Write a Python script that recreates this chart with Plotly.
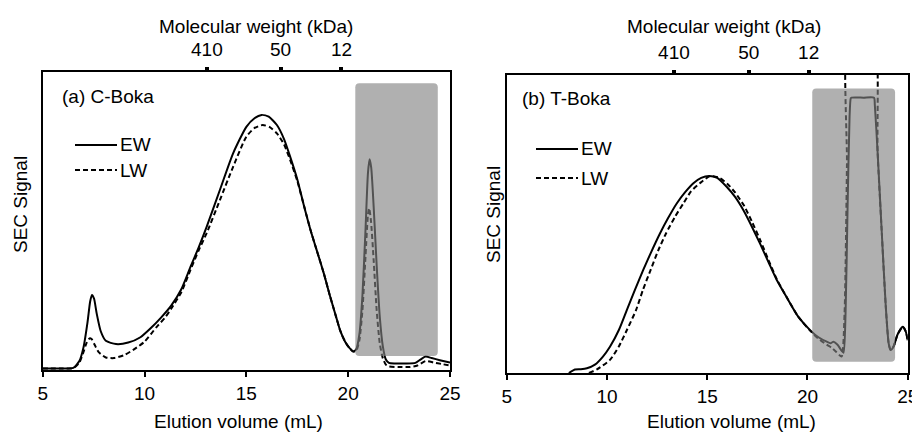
import plotly.graph_objects as go

# ---------------- data (left panel: C-Boka) ----------------
a_ew_x = [5.0, 6.0, 6.5, 6.8, 7.0, 7.2, 7.33, 7.42, 7.52, 7.65, 7.85, 8.1, 8.6, 9.2, 9.8, 10.3, 10.8,
          11.3, 11.8, 12.25, 12.65, 13.05, 13.7, 14.35, 15.0, 15.4, 15.75, 16.1, 16.5, 16.85, 17.15,
          17.5, 17.8, 18.15, 18.45, 18.8, 19.1, 19.4, 19.6, 19.85, 20.05, 20.25, 20.4, 20.55, 20.7,
          20.85, 20.97, 21.05, 21.13, 21.25, 21.4, 21.55, 21.7, 21.85, 22.0, 22.3, 22.8, 23.3, 23.55,
          23.8, 24.1, 24.5, 25.0]
a_ew_y = [0.005, 0.005, 0.007, 0.03, 0.075, 0.16, 0.23, 0.252, 0.24, 0.19, 0.13, 0.098, 0.087, 0.092,
          0.11, 0.14, 0.175, 0.215, 0.27, 0.345, 0.41, 0.48, 0.604, 0.727, 0.816, 0.845, 0.856, 0.85,
          0.822, 0.775, 0.716, 0.64, 0.559, 0.47, 0.403, 0.325, 0.25, 0.18, 0.134, 0.095, 0.075, 0.062,
          0.07, 0.12, 0.25, 0.47, 0.66, 0.707, 0.68, 0.55, 0.35, 0.18, 0.08, 0.035, 0.024, 0.022, 0.022,
          0.024, 0.035, 0.045, 0.04, 0.033, 0.025]

a_lw_x = [5.0, 6.0, 6.5, 6.8, 7.0, 7.15, 7.3, 7.4, 7.55, 7.75, 8.1, 8.5, 9.0, 9.5, 10.0, 10.6, 11.0,
          11.3, 11.8, 12.25, 12.65, 13.05, 13.7, 14.35, 15.0, 15.4, 15.8, 16.15, 16.5, 16.85, 17.15,
          17.5, 17.8, 18.15, 18.45, 18.8, 19.1, 19.4, 19.6, 19.85, 20.05, 20.25, 20.4, 20.55, 20.7,
          20.85, 20.97, 21.03, 21.12, 21.25, 21.4, 21.55, 21.7, 21.85, 22.0, 22.5, 23.0, 23.4, 23.8,
          24.2, 24.6, 25.0]
a_lw_y = [0.005, 0.005, 0.006, 0.025, 0.06, 0.09, 0.106, 0.104, 0.085, 0.06, 0.042, 0.04, 0.05, 0.07,
          0.095, 0.145, 0.175, 0.205, 0.26, 0.335, 0.4, 0.459, 0.57, 0.682, 0.783, 0.812, 0.822, 0.815,
          0.794, 0.757, 0.705, 0.635, 0.559, 0.47, 0.403, 0.325, 0.25, 0.18, 0.134, 0.095, 0.075, 0.062,
          0.065, 0.1, 0.2, 0.38, 0.52, 0.543, 0.5, 0.37, 0.2, 0.09, 0.04, 0.018, 0.012, 0.01, 0.01,
          0.015, 0.03, 0.025, 0.02, 0.015]

# ---------------- data (right panel: T-Boka) ----------------
b_ew_x = [8.1, 8.4, 8.7, 9.0, 9.4, 9.8, 10.15, 10.6, 10.99, 11.4, 11.81, 12.2, 12.65, 13.05, 13.48,
          13.9, 14.31, 14.7, 15.1, 15.5, 15.97, 16.4, 16.8, 17.2, 17.63, 18.05, 18.47, 19.0, 19.54,
          20.13, 20.55, 20.96, 21.15, 21.3, 21.5, 21.7, 21.8, 21.9, 22.0, 22.1, 22.16, 22.2, 22.8,
          23.32, 23.36, 23.5, 23.7, 23.9, 24.05, 24.15, 24.3, 24.5, 24.75, 24.9, 25.0]
b_ew_y = [0.0, 0.012, 0.013, 0.016, 0.028, 0.055, 0.088, 0.145, 0.211, 0.28, 0.346, 0.405, 0.469,
          0.52, 0.569, 0.607, 0.637, 0.655, 0.661, 0.655, 0.625, 0.59, 0.547, 0.495, 0.435, 0.373,
          0.312, 0.25, 0.189, 0.144, 0.12, 0.105, 0.1, 0.105, 0.095, 0.075, 0.068, 0.2, 0.55, 0.86,
          0.922, 0.924, 0.924, 0.924, 0.9, 0.74, 0.48, 0.23, 0.1, 0.077, 0.09, 0.13, 0.155, 0.14, 0.11]

b_lw_x = [9.1, 9.5, 10.15, 10.6, 11.0, 11.45, 11.8, 12.18, 12.55, 12.95, 13.4, 13.81, 14.2, 14.64,
          15.15, 15.6, 16.0, 16.4, 16.85, 17.25, 17.65, 18.05, 18.47, 19.0, 19.54, 20.13, 20.55, 20.96,
          21.2, 21.45, 21.7, 21.85, 21.97, 22.05, 22.8, 23.33, 23.5, 23.7, 23.9, 24.05, 24.15, 24.3,
          24.5, 24.75, 24.9, 25.0]
b_lw_y = [0.0, 0.012, 0.044, 0.09, 0.145, 0.211, 0.28, 0.346, 0.41, 0.469, 0.525, 0.569, 0.61, 0.637,
          0.661, 0.655, 0.635, 0.605, 0.56, 0.505, 0.445, 0.38, 0.315, 0.25, 0.189, 0.142, 0.115, 0.095,
          0.085, 0.07, 0.055, 0.2, 0.7, 1.15, 1.15, 1.15, 0.74, 0.48, 0.23, 0.1, 0.077, 0.09, 0.13,
          0.155, 0.14, 0.11]

# molecular weight markers (top axes)
mw_labels = ["410", "50", "12"]
a_mw_pos = [13.06, 16.68, 19.67]
b_mw_pos = [13.34, 17.07, 20.06]

x_ticks = [5, 10, 15, 20, 25]
series_names = ["EW", "LW"]
panel_titles = ["(a) C-Boka", "(b) T-Boka"]

# gray highlight boxes (data coordinates)
a_box = (20.35, 24.4, 0.047, 0.962)
b_box = (20.24, 24.37, 0.038, 0.955)

FONT = "Arial, Liberation Sans, Helvetica, sans-serif"
BLACK = "#000000"

# page body has an 8px margin: lay the figure out in page pixels minus that offset
OFF = 8
W, H = 920 - OFF, 432 - OFF
def fx(px):
    return (px - OFF) / W
def fy(py):
    return (H - (py - OFF)) / H

fig = go.Figure()

def add_panel(xs, ys, xa, ya):
    for (x, y), dash in zip(zip(xs, ys), ["solid", "5px,3px"]):
        fig.add_trace(go.Scatter(x=x, y=y, xaxis=xa, yaxis=ya, mode="lines",
                                 line=dict(color=BLACK, width=2, dash=dash, shape="spline", smoothing=0.6),
                                 showlegend=False, hoverinfo="skip"))

add_panel([a_ew_x, a_lw_x], [a_ew_y, a_lw_y], "x", "y")
add_panel([b_ew_x, b_lw_x], [b_ew_y, b_lw_y], "x2", "y2")

# invisible traces so the top (molecular weight) axes are drawn
fig.add_trace(go.Scatter(x=[5, 25], y=[0, 0], xaxis="x3", yaxis="y", mode="lines",
                         line=dict(width=0), showlegend=False, hoverinfo="skip"))
fig.add_trace(go.Scatter(x=[5, 25], y=[0, 0], xaxis="x4", yaxis="y2", mode="lines",
                         line=dict(width=0), showlegend=False, hoverinfo="skip"))

dom_a_x = [fx(42.7), fx(450)]
dom_b_x = [fx(506.7), fx(907.7)]
dom_a_y = [fy(370), fy(72)]
dom_b_y = [fy(373), fy(75)]

bottom_axis = dict(range=[5, 25], tickvals=x_ticks, ticks="outside", ticklen=5, tickwidth=1.5,
                   tickcolor=BLACK, showline=True, linecolor=BLACK, linewidth=1.5, mirror=True,
                   showgrid=False, zeroline=False, automargin=False,
                   tickfont=dict(size=19, color=BLACK, family=FONT))
left_axis = dict(range=[0, 1], showticklabels=False, ticks="", showline=True, linecolor=BLACK,
                 linewidth=1.5, mirror=True, showgrid=False, zeroline=False, automargin=False)
top_axis = dict(range=[5, 25], side="top", ticks="outside", ticklen=4, tickwidth=4, tickcolor=BLACK,
                showline=False, showgrid=False, zeroline=False, ticktext=mw_labels, automargin=False,
                ticklabelstandoff=3, tickfont=dict(size=19, color=BLACK, family=FONT))

fig.update_layout(
    width=W, height=H, margin=dict(l=0, r=0, t=0, b=0, pad=0), autosize=False,
    paper_bgcolor="white", plot_bgcolor="white",
    font=dict(family=FONT, size=19, color=BLACK),
    xaxis=dict(domain=dom_a_x, anchor="y", **bottom_axis),
    yaxis=dict(domain=dom_a_y, anchor="x", **left_axis),
    xaxis2=dict(domain=dom_b_x, anchor="y2", **bottom_axis),
    yaxis2=dict(domain=dom_b_y, anchor="x2", **left_axis),
    xaxis3=dict(overlaying="x", anchor="y", tickvals=a_mw_pos, **top_axis),
    xaxis4=dict(overlaying="x2", anchor="y2", tickvals=b_mw_pos, **top_axis),
)

def rounded_path(x0, x1, y0, y1, rx, ry):
    return (f"M {x0+rx},{y0} L {x1-rx},{y0} Q {x1},{y0} {x1},{y0+ry} L {x1},{y1-ry} "
            f"Q {x1},{y1} {x1-rx},{y1} L {x0+rx},{y1} Q {x0},{y1} {x0},{y1-ry} "
            f"L {x0},{y0+ry} Q {x0},{y0} {x0+rx},{y0} Z")

for (x0, x1, y0, y1), xr, yr in [(a_box, "x", "y"), (b_box, "x2", "y2")]:
    fig.add_shape(type="path", path=rounded_path(x0, x1, y0, y1, 0.2, 0.013), xref=xr, yref=yr,
                  fillcolor="rgb(130,130,130)", opacity=0.63, line=dict(width=0), layer="above")

ann = []
def text(x, y, s, xanchor="center", angle=0):
    ann.append(dict(x=fx(x), y=fy(y), xref="paper", yref="paper", text=s, showarrow=False,
                    xanchor=xanchor, yanchor="middle", textangle=angle, borderpad=0,
                    font=dict(size=19, family=FONT, color=BLACK)))

text(61, 97, panel_titles[0], "left")
text(521, 98.5, panel_titles[1], "left")
text(256, 27, "Molecular weight (kDa)")
text(724, 27, "Molecular weight (kDa)")
text(239, 421, "Elution volume (mL)")
text(731, 421, "Elution volume (mL)")
text(20, 205, "SEC Signal", angle=-90)
text(493, 215, "SEC Signal", angle=-90)

# legends
legend_rows = [(75, 117, 119, 145, 170), (536, 578, 580, 149, 178)]
for lx0, lx1, tx, y_ew, y_lw in legend_rows:
    for name, yy, dash in zip(series_names, [y_ew, y_lw], ["solid", "5px,3px"]):
        fig.add_shape(type="line", xref="paper", yref="paper", x0=fx(lx0), x1=fx(lx1),
                      y0=fy(yy), y1=fy(yy), line=dict(color=BLACK, width=2, dash=dash))
        text(tx, yy, name, "left")

fig.update_layout(annotations=ann)
fig.write_html("out.html")
